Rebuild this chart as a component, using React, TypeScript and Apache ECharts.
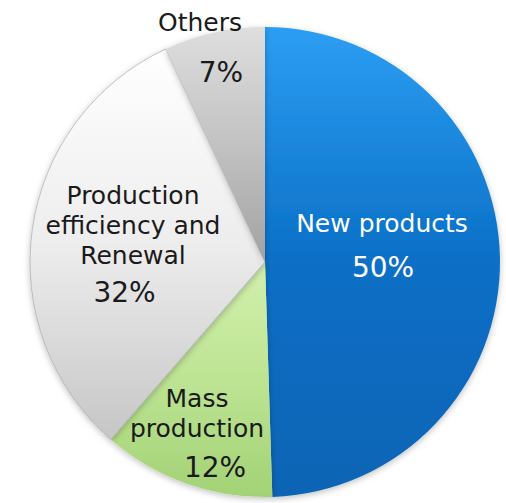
import React, { useEffect, useRef } from "react";
import * as echarts from "echarts";

const categories = ["New products", "Mass production", "Production efficiency and Renewal", "Others"];
const values = [50, 12, 32, 7];
const labelNames = ["New products", "Mass\nproduction", "Production\nefficiency and\nRenewal", "Others"];
const percentLabels = ["50%", "12%", "32%", "7%"];

// styling / layout config
const gradients = [
  ["#2c9ef3", "#0a6fc6", "#0864b4"],
  ["#d2f0ad", "#bde493", "#a3d276"],
  ["#ffffff", "#ededed", "#c6c6c6"],
  ["#dedede", "#c2c2c2", "#a2a2a2"],
];
const textColors = ["#ffffff", "#1a1a1a", "#1a1a1a", "#1a1a1a"];
// [x, top, pctLineHeight, pctPadLeft, pctPadRight]
const labelBoxes = [
  [382, 208, 58, 2, 0],
  [197, 383, 48, 36, 0],
  [133, 180, 44, 0, 17],
  [200, 7, 71, 42, 0],
];

export default function App() {
  const ref = useRef<HTMLDivElement>(null);
  useEffect(() => {
    if (!ref.current) return;
    const chart = echarts.init(ref.current, null, { renderer: "svg" });
    const data = categories.map((name, i) => ({
      name,
      value: values[i],
      itemStyle: {
        color: new echarts.graphic.LinearGradient(0, 0, 0, 1, [
          { offset: 0, color: gradients[i][0] },
          { offset: 0.5, color: gradients[i][1] },
          { offset: 1, color: gradients[i][2] },
        ]),
        borderColor: i === 2 ? "rgba(170,170,170,0.7)" : "rgba(255,255,255,0.0)",
        borderWidth: i === 2 ? 1 : 0,
      },
      label: {
        formatter: `{n|${labelNames[i].split("\n").join("}\n{n|")}}\n{p|${percentLabels[i]}}`,
        rich: {
          n: {
            fontFamily: "DejaVu Sans",
            fontSize: 25,
            lineHeight: 30,
            color: textColors[i],
            align: "center",
          },
          p: {
            fontFamily: "DejaVu Sans",
            fontSize: 28,
            lineHeight: labelBoxes[i][2],
            color: textColors[i],
            align: "center",
            padding: [0, labelBoxes[i][4], 0, labelBoxes[i][3]],
          },
        },
      },
    }));
    chart.setOption({
      animation: false,
      backgroundColor: "#ffffff",
      series: [
        {
          type: "pie",
          center: [265, 262],
          radius: 235,
          startAngle: 90,
          clockwise: true,
          data,
          itemStyle: {
            shadowBlur: 6,
            shadowColor: "rgba(0,0,0,0.25)",
            shadowOffsetY: 2,
          },
          label: {
            show: true,
            position: "inside",
            align: "center",
          },
          labelLine: { show: false },
          emphasis: { disabled: true },
          labelLayout: (params: any) => {
            const b = labelBoxes[params.dataIndex];
            return { x: b[0], y: b[1], align: "center", verticalAlign: "top" };
          },
        },
      ],
    });
    return () => chart.dispose();
  }, []);
  return (
    <div
      ref={ref}
      style={{ position: "fixed", left: 0, top: 0, width: 506, height: 503 }}
    />
  );
}
